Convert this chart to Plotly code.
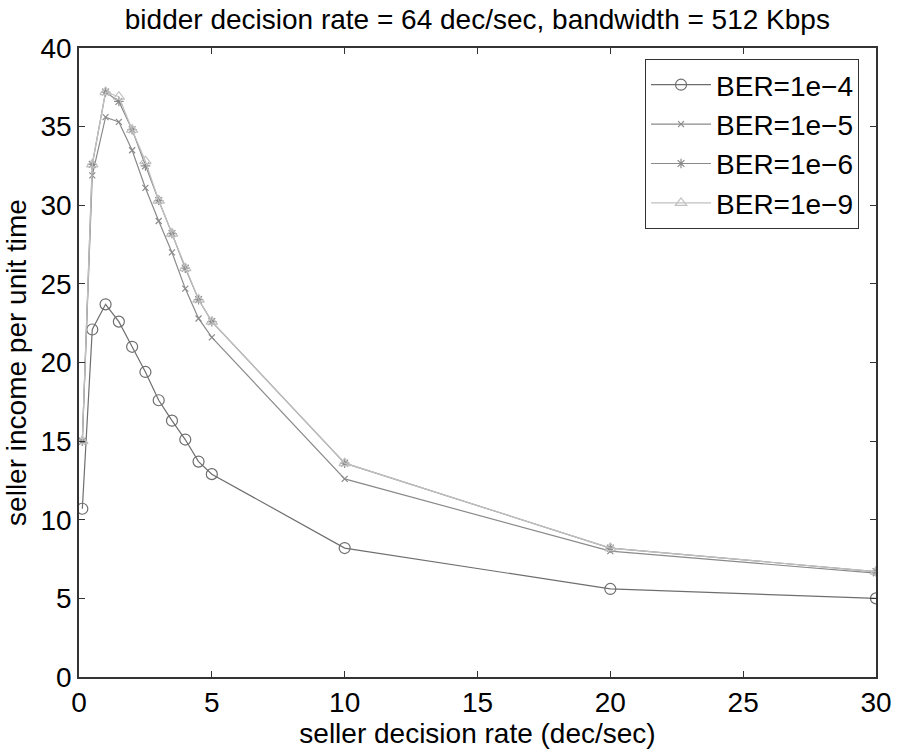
import plotly.graph_objects as go

x_rate = [0.125, 0.5, 1, 1.5, 2, 2.5, 3, 3.5, 4, 4.5, 5, 10, 20, 30]
ber_1e4 = [10.7, 22.1, 23.7, 22.6, 21.0, 19.4, 17.6, 16.3, 15.1, 13.7, 12.9, 8.2, 5.6, 5.0]
ber_1e5 = [15.0, 31.9, 35.6, 35.3, 33.5, 31.1, 29.0, 27.0, 24.7, 22.8, 21.6, 12.6, 8.0, 6.6]
ber_1e6 = [15.0, 32.6, 37.2, 36.6, 34.8, 32.5, 30.3, 28.2, 26.0, 24.0, 22.6, 13.6, 8.2, 6.7]
ber_1e9 = [15.0, 32.6, 37.2, 36.9, 34.8, 32.8, 30.3, 28.2, 26.0, 24.0, 22.6, 13.6, 8.2, 6.7]
names = ["BER=1e\u22124", "BER=1e\u22125", "BER=1e\u22126", "BER=1e\u22129"]

series = [ber_1e4, ber_1e5, ber_1e6, ber_1e9]
styles = [
    dict(color="#6e6e6e", symbol="circle-open", size=11),
    dict(color="#8a8a8a", symbol="x-thin-open", size=6),
    dict(color="#8a8a8a", symbol="asterisk-open", size=8),
    dict(color="#c0c0c0", symbol="triangle-up-open", size=10),
]

fig = go.Figure()
for name, ys, st in zip(names, series, styles):
    fig.add_trace(go.Scatter(
        x=x_rate, y=ys, name=name, mode="lines+markers",
        line=dict(color=st["color"], width=1.2),
        marker=dict(symbol=st["symbol"], size=st["size"], color=st["color"],
                    line=dict(color=st["color"], width=1.2)),
    ))

font_family = "Liberation Sans, Arial, Helvetica, sans-serif"
fig.update_layout(
    width=899, height=755,
    margin=dict(l=79, r=23, t=48, b=78),
    paper_bgcolor="white", plot_bgcolor="white",
    font=dict(family=font_family, size=28, color="black"),
    title=dict(text="bidder decision rate = 64 dec/sec, bandwidth = 512 Kbps",
               x=0.531, xanchor="center", y=0.974, yanchor="middle",
               font=dict(size=28)),
    showlegend=True,
    legend=dict(x=0.9787, xanchor="right", y=0.9825, yanchor="top",
                bgcolor="white", bordercolor="#333", borderwidth=1,
                font=dict(size=28), tracegroupgap=0, itemwidth=60),
    xaxis=dict(range=[0, 30], tickvals=[0, 5, 10, 15, 20, 25, 30],
               ticks="inside", ticklen=6, tickcolor="#333",
               showline=True, linecolor="#333", linewidth=1.5, mirror="ticks",
               showgrid=False, zeroline=False, automargin=False,
               title=dict(text="seller decision rate (dec/sec)", standoff=4,
                          font=dict(size=28)),
               tickfont=dict(size=28)),
    yaxis=dict(range=[0, 40], tickvals=[0, 5, 10, 15, 20, 25, 30, 35, 40],
               ticks="inside", ticklen=6, tickcolor="#333",
               showline=True, linecolor="#333", linewidth=1.5, mirror="ticks",
               showgrid=False, zeroline=False, automargin=False,
               title=dict(text="seller income per unit time", standoff=6,
                          font=dict(size=28)),
               tickfont=dict(size=28)),
)

fig.write_html("out.html")
